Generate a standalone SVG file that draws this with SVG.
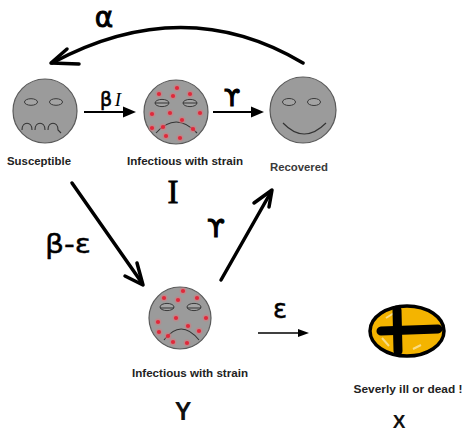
<svg xmlns="http://www.w3.org/2000/svg" width="464" height="434" viewBox="0 0 464 434">
  <style>
    .face { fill: #9b9b9b; stroke: #5a5a5a; stroke-width: 1.2; }
    .eye { fill: #a4a4a4; stroke: #3a3a3a; stroke-width: 1; }
    .mouth { fill: none; stroke: #333; stroke-width: 1.1; }
    .lbl { font-family: "Liberation Sans", Arial, sans-serif; font-weight: bold; font-size: 11px; fill: #222; text-anchor: middle; }
    .hand { fill: none; stroke: #000; stroke-width: 3.5; stroke-linecap: round; stroke-linejoin: round; }
    .thin { fill: none; stroke: #000; stroke-width: 2; }
    .greek { font-family: "DejaVu Sans", "Liberation Sans", sans-serif; fill: #000; text-anchor: middle; stroke: #000; }
    .big { font-family: "Liberation Sans", Arial, sans-serif; font-weight: bold; fill: #111; text-anchor: middle; }
  </style>
  <defs>
    <g id="spot">
      <circle r="3.4" fill="#d9767c" opacity="0.55"/>
      <circle r="2.1" fill="#e0283a"/>
    </g>
  </defs>
  <rect width="464" height="434" fill="#fff"/>

  <!-- Susceptible -->
  <g id="susceptible">
    <circle class="face" cx="45" cy="111" r="32"/>
    <ellipse class="eye" cx="31" cy="102" rx="6.5" ry="3.3"/>
    <ellipse class="eye" cx="56" cy="102" rx="6.5" ry="3.3"/>
    <path class="mouth" d="M22,130 C22,121 32,121 32,130 M35,130 C35,121 45,121 45,130 M48,130 C48,121 58,121 58,130 L61,133"/>
    <text class="lbl" x="39" y="165" textLength="64" lengthAdjust="spacingAndGlyphs">Susceptible</text>
  </g>

  <!-- Infectious I -->
  <g id="infectious-i">
    <circle class="face" cx="176" cy="112" r="32"/>
    <ellipse class="eye" cx="162" cy="103" rx="7" ry="3.6"/>
    <ellipse class="eye" cx="190" cy="103" rx="7" ry="3.6"/>
    <path class="mouth" d="M155,103 L169,103 M183,103 L197,103" stroke-width="0.8"/>
    <path class="mouth" d="M156,133 Q176,111 197,133"/>
    <use href="#spot" x="177" y="88"/><use href="#spot" x="159" y="94"/><use href="#spot" x="190" y="94"/>
    <use href="#spot" x="173" y="96"/><use href="#spot" x="152" y="114"/><use href="#spot" x="170" y="113"/>
    <use href="#spot" x="200" y="113"/><use href="#spot" x="182" y="120"/><use href="#spot" x="152" y="128"/>
    <use href="#spot" x="163" y="127"/><use href="#spot" x="193" y="129"/><use href="#spot" x="166" y="136"/>
    <use href="#spot" x="180" y="138"/>
    <text class="lbl" x="185" y="165" textLength="116" lengthAdjust="spacingAndGlyphs">Infectious with strain</text>
    <text x="173" y="203" font-family="Liberation Serif, serif" font-size="33" text-anchor="middle" stroke="#000" stroke-width="0.8">I</text>
  </g>

  <!-- Recovered -->
  <g id="recovered">
    <circle class="face" cx="303" cy="110" r="33"/>
    <ellipse class="eye" cx="289" cy="102" rx="6.5" ry="3.5"/>
    <ellipse class="eye" cx="314" cy="102" rx="6.5" ry="3.5"/>
    <path class="mouth" d="M283,123 Q304,145 326,123"/>
    <text class="lbl" x="299" y="171" textLength="58" lengthAdjust="spacingAndGlyphs" style="fill:#3a3a3a">Recovered</text>
  </g>

  <!-- Infectious Y -->
  <g id="infectious-y">
    <circle class="face" cx="180" cy="318" r="31"/>
    <ellipse class="eye" cx="167" cy="307" rx="7" ry="3.6"/>
    <ellipse class="eye" cx="194" cy="307" rx="7" ry="3.6"/>
    <path class="mouth" d="M160,308 L174,308 M187,308 L201,308" stroke-width="0.8"/>
    <path class="mouth" d="M164,340 Q181,318 199,340"/>
    <use href="#spot" x="183" y="291"/><use href="#spot" x="164" y="298"/><use href="#spot" x="197" y="298"/>
    <use href="#spot" x="178" y="300"/><use href="#spot" x="176" y="318"/><use href="#spot" x="206" y="318"/>
    <use href="#spot" x="158" y="322"/><use href="#spot" x="188" y="326"/><use href="#spot" x="159" y="332"/>
    <use href="#spot" x="199" y="331"/><use href="#spot" x="168" y="336"/><use href="#spot" x="173" y="342"/>
    <use href="#spot" x="187" y="343"/>
    <text class="lbl" x="190" y="377" textLength="116" lengthAdjust="spacingAndGlyphs">Infectious with strain</text>
    <text class="big" x="183" y="420" font-size="25">Y</text>
  </g>

  <!-- Severely ill or dead -->
  <g id="severe">
    <ellipse cx="407" cy="331" rx="37" ry="25" fill="#f4b400" stroke="#000" stroke-width="3.5"/>
    <path d="M386,318 L394,313 M413,349 L421,345 M382,338 L389,346" stroke="#fbe7a8" stroke-width="2" opacity="0.8"/>
    <path d="M397,310 L398,351" stroke="#000" stroke-width="9" stroke-linecap="round"/>
    <path d="M381,331 L438,329" stroke="#000" stroke-width="9" stroke-linecap="round"/>
    <text class="lbl" x="408" y="393" textLength="109" lengthAdjust="spacingAndGlyphs">Severly ill or dead !</text>
    <text class="big" x="399" y="428" font-size="19">X</text>
  </g>

  <!-- Connectors -->
  <g id="connectors">
    <!-- alpha: recovered back to susceptible -->
    <path class="hand" d="M303,63 Q184,-8 52,63"/>
    <path class="hand" d="M67,49 L51,63 L79,64"/>
    <text class="greek" x="104" y="27" font-size="28" stroke-width="0.9">α</text>

    <!-- beta I -->
    <path class="thin" d="M84,112 L126,112"/>
    <path d="M136,112 L123,106.5 L123,117.5 Z" fill="#000"/>
    <text class="greek" x="106" y="106" font-size="19" stroke-width="0.6">β</text>
    <text x="118" y="106" font-family="Liberation Serif, serif" font-style="italic" font-size="19" text-anchor="middle">I</text>

    <!-- gamma I to R -->
    <path class="thin" d="M213,112 L254,112"/>
    <path d="M264,112 L251,106.5 L251,117.5 Z" fill="#000"/>
    <text class="greek" x="232" y="106" font-size="23" stroke-width="1.2">ϒ</text>

    <!-- beta - epsilon: susceptible to Y -->
    <path class="hand" d="M72,183 L142,283"/>
    <path class="hand" d="M125,276 L143,285 L137,263"/>
    <text class="greek" x="68" y="253" font-size="26" stroke-width="0.4" textLength="46" lengthAdjust="spacingAndGlyphs">β-ε</text>

    <!-- gamma Y to R -->
    <path class="hand" d="M221,280 L271,192"/>
    <path class="hand" d="M254,203 L272,190 L269,207"/>
    <text class="greek" x="216" y="237" font-size="25" stroke-width="1.2">ϒ</text>

    <!-- epsilon Y to X -->
    <path d="M258,333 L300,333" stroke="#000" stroke-width="1.5" fill="none"/>
    <path d="M309,333 L298,329 L298,337 Z" fill="#000"/>
    <text class="greek" x="280" y="318" font-size="26" stroke-width="0.5">ε</text>
  </g>
</svg>
